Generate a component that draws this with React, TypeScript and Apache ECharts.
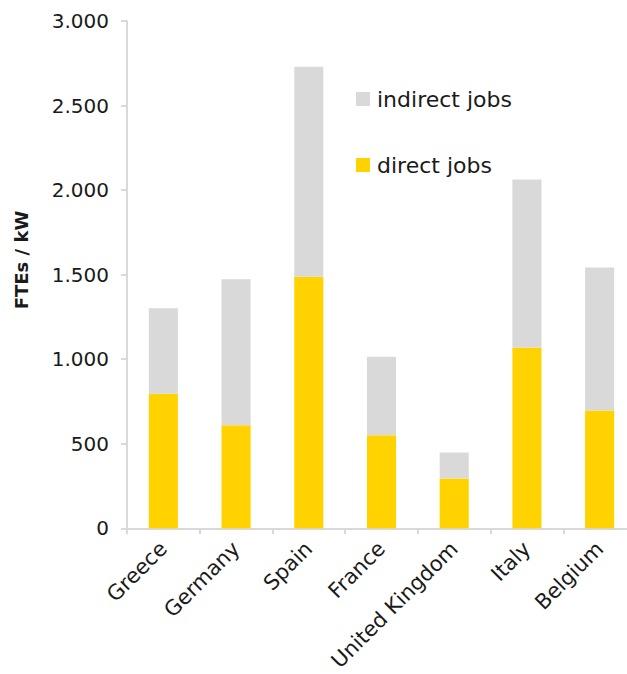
import React, { useEffect, useRef } from "react";
import * as echarts from "echarts";

const categories = ["Greece", "Germany", "Spain", "France", "United Kingdom", "Italy", "Belgium"];
const directJobs = [796, 609, 1487, 550, 295, 1069, 697];
const totalJobs = [1301, 1473, 2729, 1014, 448, 2063, 1542];
const indirectJobs = totalJobs.map((t, i) => t - directJobs[i]);
const yTicks = [0, 500, 1000, 1500, 2000, 2500, 3000];
const yAxisTitle = "FTEs / kW";

const FONT = "DejaVu Sans";
const TEXT = "#1a1a1a";
const AXIS = "#d9d9d9";

export default function App() {
  const ref = useRef<HTMLDivElement>(null);
  useEffect(() => {
    if (!ref.current) return;
    const chart = echarts.init(ref.current, null, { renderer: "svg" });
    const legendBase = {
      left: 356,
      padding: 0,
      icon: "rect",
      itemWidth: 14,
      itemHeight: 14,
      textStyle: { fontFamily: FONT, fontSize: 22, color: TEXT, padding: [0, 0, 0, 2] },
    };
    chart.setOption({
      animation: false,
      backgroundColor: "#ffffff",
      grid: { left: 127, top: 21, right: 0, bottom: 144, containLabel: false },
      legend: [
        { ...legendBase, data: ["indirect jobs"], top: 88 },
        { ...legendBase, data: ["direct jobs"], top: 154 },
      ],
      graphic: [
        {
          type: "text",
          x: 21,
          y: 260,
          rotation: Math.PI / 2,
          style: {
            text: yAxisTitle,
            fontFamily: FONT,
            fontSize: 18,
            fontWeight: "bold",
            fill: TEXT,
            align: "center",
            verticalAlign: "middle",
          },
        },
      ],
      xAxis: {
        type: "category",
        data: categories,
        axisLine: { show: true, lineStyle: { color: AXIS, width: 2 } },
        axisTick: { show: true, length: 6, lineStyle: { color: AXIS, width: 2 } },
        axisLabel: {
          rotate: 45,
          margin: 17,
          fontFamily: FONT,
          fontSize: 21,
          color: TEXT,
          interval: 0,
        },
      },
      yAxis: {
        type: "value",
        min: yTicks[0],
        max: yTicks[yTicks.length - 1],
        interval: 500,
        axisLine: { show: true, lineStyle: { color: AXIS, width: 2 } },
        axisTick: { show: true, length: 6, lineStyle: { color: AXIS, width: 2 } },
        splitLine: { show: false },
        axisLabel: {
          margin: 18,
          fontFamily: FONT,
          fontSize: 20,
          color: TEXT,
          formatter: (v: number) => v.toLocaleString("de-DE"),
        },
      },
      series: [
        {
          name: "direct jobs",
          type: "bar",
          stack: "jobs",
          data: directJobs,
          barWidth: "40%",
          itemStyle: { color: "#ffd200" },
        },
        {
          name: "indirect jobs",
          type: "bar",
          stack: "jobs",
          data: indirectJobs,
          barWidth: "40%",
          itemStyle: { color: "#d9d9d9" },
        },
      ],
    });
    return () => chart.dispose();
  }, []);
  return (
    <div
      ref={ref}
      style={{ position: "fixed", left: 0, top: 0, width: 636, height: 674 }}
    />
  );
}
